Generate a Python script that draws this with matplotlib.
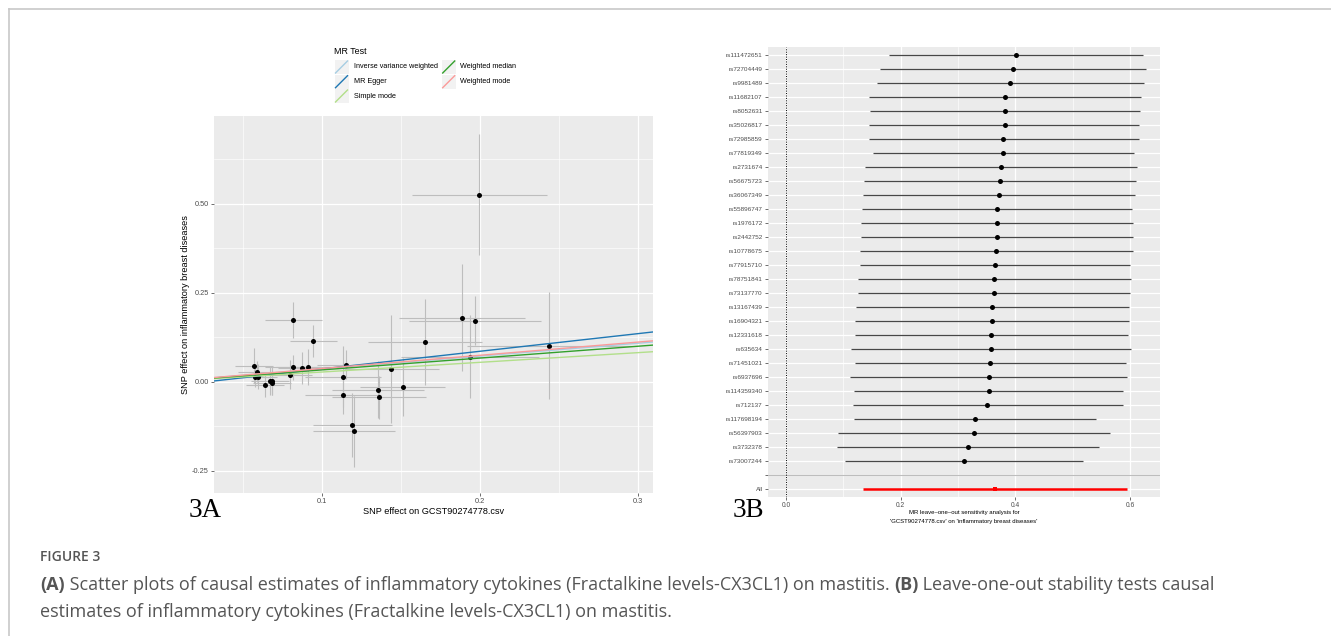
import numpy as np
import matplotlib.pyplot as plt
from matplotlib.lines import Line2D
from matplotlib.patches import Rectangle

W, H = 1331, 636

# ── Panel A data: SNP effects (exposure vs outcome) ───────────────────────────
snp_x = [0.1996, 0.1884, 0.1968, 0.2440, 0.1937, 0.1650, 0.1510, 0.1438, 0.1353, 0.1360,
         0.1190, 0.1200, 0.1148, 0.1130, 0.1130, 0.0943, 0.0816, 0.0907, 0.0869, 0.0814,
         0.0795, 0.0567, 0.0584, 0.0571, 0.0590, 0.0636, 0.0668, 0.0680, 0.0680]
snp_y = [0.526, 0.180, 0.172, 0.101, 0.070, 0.112, -0.015, 0.036, -0.022, -0.044,
         -0.122, -0.140, 0.048, 0.014, -0.037, 0.114, 0.174, 0.041, 0.038, 0.041,
         0.020, 0.045, 0.028, 0.014, 0.014, -0.008, 0.003, 0.002, -0.003]
snp_xerr = [0.043, 0.040, 0.042, 0.052, 0.044, 0.036, 0.027, 0.030, 0.029, 0.030,
            0.025, 0.026, 0.018, 0.024, 0.024, 0.015, 0.018, 0.020, 0.015, 0.018,
            0.014, 0.012, 0.012, 0.010, 0.012, 0.012, 0.012, 0.010, 0.012]
snp_yerr = [0.170, 0.150, 0.068, 0.150, 0.117, 0.120, 0.082, 0.152, 0.080, 0.060,
            0.090, 0.100, 0.040, 0.085, 0.055, 0.044, 0.050, 0.050, 0.045, 0.035,
            0.040, 0.050, 0.030, 0.030, 0.035, 0.035, 0.040, 0.040, 0.035]

methods = ["Inverse variance weighted", "MR Egger", "Simple mode",
           "Weighted median", "Weighted mode"]
method_colors = ["#a6cee3", "#1f78b4", "#b2df8a", "#33a02c", "#fb9a99"]
method_slope = [0.360, 0.495, 0.272, 0.332, 0.371]
method_intercept = [0.0, -0.0135, 0.0, 0.0, 0.0]

# ── Panel B data: leave-one-out estimates (top to bottom) ─────────────────────
loo_snps = ["rs111472651", "rs72704449", "rs9981489", "rs11682107", "rs8052631",
            "rs35026817", "rs72985859", "rs77819349", "rs2731674", "rs56675723",
            "rs36067349", "rs55896747", "rs1976172", "rs2442752", "rs10778675",
            "rs77915710", "rs78751841", "rs73137770", "rs13167439", "rs16904321",
            "rs12331618", "rs635634", "rs71451021", "rs6937696", "rs114359340",
            "rs712137", "rs117698194", "rs56397903", "rs3732378", "rs73007244"]
loo_b = [0.401, 0.395, 0.391, 0.382, 0.382, 0.381, 0.379, 0.379, 0.374, 0.373,
         0.371, 0.368, 0.367, 0.367, 0.366, 0.364, 0.363, 0.362, 0.359, 0.359,
         0.358, 0.357, 0.356, 0.353, 0.353, 0.351, 0.329, 0.327, 0.317, 0.310]
loo_lo = [0.179, 0.163, 0.158, 0.145, 0.146, 0.145, 0.144, 0.152, 0.138, 0.136,
          0.135, 0.132, 0.131, 0.130, 0.129, 0.129, 0.126, 0.125, 0.122, 0.121,
          0.121, 0.114, 0.121, 0.112, 0.118, 0.116, 0.118, 0.090, 0.089, 0.102]
loo_hi = [0.622, 0.628, 0.624, 0.619, 0.618, 0.615, 0.615, 0.607, 0.612, 0.610,
          0.608, 0.604, 0.605, 0.605, 0.605, 0.600, 0.601, 0.599, 0.598, 0.598,
          0.596, 0.602, 0.593, 0.594, 0.587, 0.587, 0.541, 0.564, 0.546, 0.518]
all_b, all_lo, all_hi = 0.364, 0.134, 0.594

caption_1 = ["(A)", " Scatter plots of causal estimates of inflammatory cytokines (Fractalkine levels-CX3CL1) on mastitis. ",
             "(B)", " Leave-one-out stability tests causal"]
caption_2 = "estimates of inflammatory cytokines (Fractalkine levels-CX3CL1) on mastitis."

PANEL = "#EBEBEB"
TICK = "#4D4D4D"
SANS = ["Liberation Sans", "DejaVu Sans"]


def fx(x):
    return x / W


def fy(y):
    return 1 - y / H


def style_gg(ax):
    ax.set_facecolor(PANEL)
    for s in ax.spines.values():
        s.set_visible(False)
    ax.grid(True, which="major", color="white", lw=0.9)
    ax.grid(True, which="minor", color="white", lw=0.45)
    ax.set_axisbelow(True)
    ax.tick_params(which="major", length=2.2, width=0.5, color="#333333",
                   labelcolor=TICK, pad=1.5)
    ax.tick_params(which="minor", length=0)


fig = plt.figure(figsize=(W / 100, H / 100), dpi=100)
fig.patch.set_facecolor("white")

# frame lines of the figure box
fig.add_artist(Line2D([fx(9), 1], [fy(9), fy(9)], color="#c8c8c8", lw=1.2))
fig.add_artist(Line2D([fx(9), fx(9)], [fy(9), 0], color="#c8c8c8", lw=1.2))

# ── Panel A ───────────────────────────────────────────────────────────────────
axA = fig.add_axes([fx(214), fy(493), (653 - 214) / W, (493 - 116) / H])
style_gg(axA)
axA.errorbar(snp_x, snp_y, yerr=snp_yerr, fmt="none", ecolor="#bdbdbd", elinewidth=0.8)
axA.errorbar(snp_x, snp_y, xerr=snp_xerr, fmt="none", ecolor="#bdbdbd", elinewidth=0.8)
axA.scatter(snp_x, snp_y, s=13, color="black", zorder=3, linewidths=0)
xlim = (0.0313, 0.3097)
xs = np.array(xlim)
for name, col, b, a in zip(methods, method_colors, method_slope, method_intercept):
    axA.plot(xs, a + b * xs, color=col, lw=1.0, zorder=4)
axA.set_xlim(*xlim)
axA.set_ylim(-0.313, 0.747)
axA.set_xticks([0.1, 0.2, 0.3])
axA.set_xticklabels(["0.1", "0.2", "0.3"])
axA.set_xticks([0.05, 0.15, 0.25], minor=True)
axA.set_yticks([-0.25, 0.0, 0.25, 0.5])
axA.set_yticklabels(["-0.25", "0.00", "0.25", "0.50"])
axA.set_yticks([-0.125, 0.125, 0.375, 0.625], minor=True)
for lab in axA.get_xticklabels() + axA.get_yticklabels():
    lab.set_fontsize(5.3)
    lab.set_family(SANS)

fig.text(fx(434), fy(511), "SNP effect on GCST90274778.csv", fontsize=6.6,
         family=SANS, ha="center", va="center", color="black")
fig.text(fx(185), fy(305), "SNP effect on inflammatory breast diseases", fontsize=6.6,
         family=SANS, ha="center", va="center", rotation=90, color="black")

# legend drawn as in ggplot (diagonal keys in grey boxes, two columns)
fig.text(fx(334), fy(51), "MR Test", fontsize=6.4, family=SANS, ha="left", va="center")
key_cols = [(334.5, 353.5), (441.7, 460)]
key_rows = [67, 81.7, 96]
slots = [(0, 0), (0, 1), (0, 2), (1, 0), (1, 1)]
for name, col, (c, r) in zip(methods, method_colors, slots):
    kx, tx = key_cols[c]
    ky = key_rows[r]
    fig.add_artist(Rectangle((fx(kx), fy(ky + 7)), 14 / W, 14 / H,
                             facecolor="#F2F2F2", edgecolor="none"))
    fig.add_artist(Line2D([fx(kx + 1), fx(kx + 13)], [fy(ky + 6), fy(ky - 6)],
                          color=col, lw=1.0))
    fig.text(fx(tx), fy(ky), name, fontsize=5.2, family=SANS, ha="left", va="center")

fig.text(fx(189), fy(517), "3A", fontsize=19.5, family="Liberation Serif",
         ha="left", va="baseline")

# ── Panel B ───────────────────────────────────────────────────────────────────
axB = fig.add_axes([fx(767.7), fy(497), (1160 - 767.7) / W, (497 - 47) / H])
style_gg(axB)
n = len(loo_snps)
ypos = np.arange(n + 2, 2, -1)      # SNPs at top..3, blank at 2, All at 1
axB.hlines(ypos, loo_lo, loo_hi, color="#474747", lw=0.9, zorder=3)
axB.scatter(loo_b, ypos, s=13, color="black", zorder=4, linewidths=0)
axB.hlines([1], [all_lo], [all_hi], color="red", lw=1.8, zorder=3)
axB.scatter([all_b], [1], s=10, marker="s", color="red", zorder=4, linewidths=0)
axB.axhline(2, color="#bdbdbd", lw=0.8, zorder=2)
axB.axvline(0, color="black", lw=0.7, ls=(0, (1, 1.5)), zorder=2)
axB.set_xlim(-0.032, 0.652)
axB.set_ylim(0.4, n + 2.6)
axB.set_xticks([0.0, 0.2, 0.4, 0.6])
axB.set_xticklabels(["0.0", "0.2", "0.4", "0.6"])
axB.set_xticks([0.1, 0.3, 0.5], minor=True)
axB.set_yticks(list(ypos) + [2, 1])
axB.set_yticklabels(loo_snps + ["", "All"])
for lab in axB.get_xticklabels():
    lab.set_fontsize(4.8)
    lab.set_family(SANS)
for lab in axB.get_yticklabels():
    lab.set_fontsize(4.6)
    lab.set_family(SANS)

fig.text(fx(964), fy(512.7), "MR leave\u2013one\u2013out sensitivity analysis for",
         fontsize=4.3, family=SANS, ha="center", va="center")
fig.text(fx(964), fy(521), "'GCST90274778.csv' on 'inflammatory breast diseases'",
         fontsize=4.3, family=SANS, ha="center", va="center")
fig.text(fx(733), fy(517), "3B", fontsize=19.5, family="Liberation Serif",
         ha="left", va="baseline")

# ── Caption ───────────────────────────────────────────────────────────────────
CAP = "#555555"
CAPF = ["Open Sans", "DejaVu Sans"]
fig.text(fx(40), fy(557), "FIGURE 3", fontsize=10, family=CAPF, weight="semibold",
         color=CAP, ha="left", va="center")

renderer = fig.canvas.get_renderer()
x = 40
for i, piece in enumerate(caption_1):
    t = fig.text(fx(x), fy(585), piece, fontsize=13, family=CAPF, color=CAP,
                 weight="bold" if piece.startswith("(") else "normal",
                 ha="left", va="center")
    x += t.get_window_extent(renderer).width
fig.text(fx(40), fy(612), caption_2, fontsize=13, family=CAPF, color=CAP,
         ha="left", va="center")

fig.savefig("out.png", dpi=100)
